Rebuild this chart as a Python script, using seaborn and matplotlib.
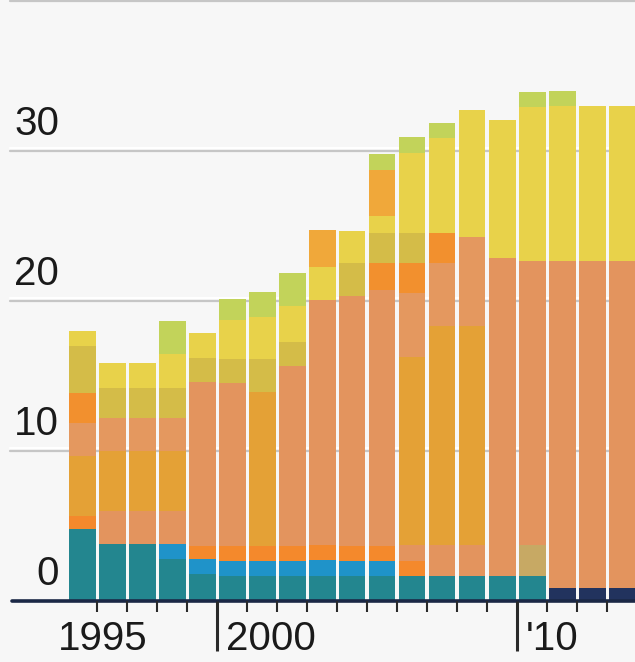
import matplotlib
matplotlib.use("Agg")
import matplotlib.pyplot as plt
import numpy as np
import pandas as pd
import seaborn as sns

# ---------------- data ----------------
years = [str(y) for y in range(1995, 2014)]

navy        = [0, 0, 0, 0, 0, 0, 0, 0, 0, 0, 0, 0, 0, 0, 0, 0, 0.9, 0.9, 0.9]
teal        = [4.8, 3.8, 3.8, 2.8, 1.8, 1.65, 1.65, 1.65, 1.65, 1.65, 1.65, 1.65, 1.65, 1.65, 1.65, 1.65, 0, 0, 0]
blue        = [0, 0, 0, 1.0, 1.0, 1.0, 1.0, 1.0, 1.1, 1.0, 1.0, 0, 0, 0, 0, 0, 0, 0, 0]
khaki       = [0, 0, 0, 0, 0, 0, 0, 0, 0, 0, 0, 0, 0, 0, 0, 2.1, 0, 0, 0]
bright_low  = [0.9, 0, 0, 0, 0.9, 1.0, 1.0, 1.0, 1.0, 1.0, 1.0, 1.0, 0, 0, 0, 0, 0, 0, 0]
salmon      = [0, 2.2, 2.2, 2.2, 10.9, 10.9, 0, 12.0, 16.3, 16.7, 17.1, 1.1, 2.1, 2.1, 21.2, 18.9, 21.8, 21.8, 21.8]
orange      = [4.0, 4.0, 4.0, 4.0, 0, 0, 10.3, 0, 0, 0, 0, 12.5, 14.6, 14.6, 0, 0, 0, 0, 0]
salmon_up   = [2.2, 2.2, 2.2, 2.2, 0, 0, 0, 0, 0, 0, 0, 4.3, 4.2, 5.9, 0, 0, 0, 0, 0]
bright_mid  = [2.0, 0, 0, 0, 0, 0, 0, 0, 0, 0, 1.8, 2.0, 2.0, 0, 0, 0, 0, 0, 0]
olive       = [3.1, 2.0, 2.0, 2.0, 1.6, 1.6, 2.2, 1.6, 0, 2.2, 2.0, 2.0, 0, 0, 0, 0, 0, 0, 0]
yellow      = [1.0, 1.7, 1.7, 2.3, 1.7, 2.6, 2.8, 2.4, 2.2, 2.1, 1.1, 5.3, 6.3, 8.5, 9.2, 10.3, 10.3, 10.3, 10.3]
orange_top  = [0, 0, 0, 0, 0, 0, 0, 0, 2.5, 0, 3.05, 0, 0, 0, 0, 0, 0, 0, 0]
light_green = [0, 0, 0, 2.2, 0, 1.4, 1.65, 2.25, 0, 0, 1.1, 1.1, 1.0, 0, 0, 1.0, 1.0, 0, 0]

y_ticks = [0, 10, 20, 30]
x_labels = {"1995": "1995", "2000": "2000", "2010": "'10"}

# ---------------- styling ----------------
layers = [
    ("navy", navy, "#22335e"),
    ("teal", teal, "#23868f"),
    ("blue", blue, "#1f93c9"),
    ("khaki", khaki, "#c7a964"),
    ("bright_low", bright_low, "#f4892c"),
    ("salmon", salmon, "#e3945e"),
    ("orange", orange, "#e4a136"),
    ("salmon_up", salmon_up, "#e4985f"),
    ("bright_mid", bright_mid, "#f2902e"),
    ("olive", olive, "#d4bc48"),
    ("yellow", yellow, "#e8d24a"),
    ("orange_top", orange_top, "#f0a83a"),
    ("light_green", light_green, "#c2d35a"),
]

df = pd.DataFrame({name: vals for name, vals, _ in layers}, index=years)
cum = df.cumsum(axis=1)

sns.set_theme(style="white")
plt.rcParams["font.family"] = ["Liberation Sans", "DejaVu Sans"]

BG = "#f7f7f7"
W, H = 635, 662
fig = plt.figure(figsize=(W / 100, H / 100), dpi=100, facecolor=BG)
base_px = 601
ax = fig.add_axes([0, (H - base_px) / H, 1, base_px / H])
ax.set_facecolor(BG)

# stacked bars: draw cumulative totals from top layer down
for name, _, color in reversed(layers):
    sns.barplot(x=years, y=cum[name].values, color=color, saturation=1,
                width=0.9, errorbar=None, ax=ax, zorder=2, linewidth=0)

px_per_unit = 15.0
x0_px, step_px = 82.0, 30.0
ax.set_xlim(-x0_px / step_px, (W - x0_px) / step_px)
ax.set_ylim(0, base_px / px_per_unit)

for s in ax.spines.values():
    s.set_visible(False)
ax.set_xticks([])
ax.set_yticks([])
ax.set_xlabel("")
ax.set_ylabel("")

# gridlines
for v in [10, 20, 30, 40]:
    ax.axhline(v, xmin=10 / W, xmax=1, color="#c6c6c6", lw=1.6, zorder=0)
    ax.axhline(v + 0.2, xmin=10 / W, xmax=1, color="white", lw=1.5, zorder=0)

# baseline
ax.axhline(0, xmin=12 / W, xmax=1, color="#1b2846", lw=2.6, zorder=5, clip_on=False)

# y labels
lab_x = (59 - x0_px) / step_px
for v in y_ticks:
    ax.text(lab_x, v + 0.55, str(v), ha="right", va="bottom", fontsize=29,
            color="#1a1a1a", zorder=6)

# x ticks between years
n = len(years)
for i in range(n - 1):
    xb = i + 0.5
    if years[i + 1] in ("2000", "2010"):
        ax.vlines(xb, -3.3, 0, color="#2a2a2a", lw=2.2, clip_on=False, zorder=5)
    else:
        ax.vlines(xb, -0.7, 0, color="#2a2a2a", lw=1.5, clip_on=False, zorder=5)

# x labels
for yr, lab in x_labels.items():
    i = years.index(yr)
    if yr == "1995":
        xpos = (58 - x0_px) / step_px
    else:
        xpos = i - 0.5 + 0.3
    ax.text(xpos, -1.25, lab, ha="left", va="top", fontsize=29,
            color="#1a1a1a", clip_on=False)

fig.savefig("out.png", dpi=100, facecolor=BG)
